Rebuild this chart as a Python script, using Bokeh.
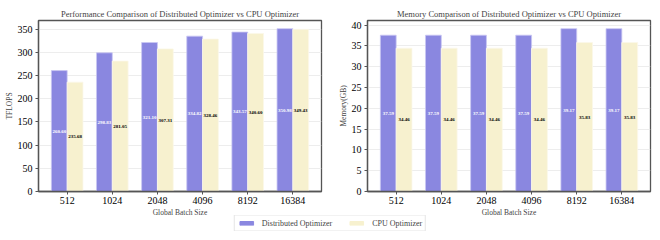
from bokeh.plotting import figure
from bokeh.models import (ColumnDataSource, FactorRange, Range1d, SingleIntervalTicker,
                          Legend, LegendItem)
from bokeh.transform import dodge
from bokeh.layouts import column, row
from bokeh.core.properties import value
from bokeh.embed import file_html
from bokeh.resources import INLINE

batch_sizes = ["512", "1024", "2048", "4096", "8192", "16384"]
tflops_distributed = [260.60, 298.83, 321.10, 334.82, 343.57, 350.98]
tflops_cpu = [235.68, 281.05, 307.31, 328.46, 340.60, 349.43]
memory_distributed = [37.59, 37.59, 37.59, 37.59, 39.17, 39.17]
memory_cpu = [34.46, 34.46, 34.46, 34.46, 35.83, 35.83]
series_names = ["Distributed Optimizer", "CPU Optimizer"]

SERIF = "Liberation Serif"
PURPLE = "#8A87E0"
BEIGE = "#F7F1CF"
SPINE = "#555555"
BAR_W = 0.35


def make_panel(title, ylabel, dist, cpu, interval, bl, br):
    src = ColumnDataSource(dict(
        x=batch_sizes, dist=dist, cpu=cpu,
        dist_mid=[v / 2 for v in dist], cpu_mid=[v / 2 for v in cpu],
        dist_lbl=[f"{v:.2f}" for v in dist], cpu_lbl=[f"{v:.2f}" for v in cpu],
    ))
    p = figure(width=330, height=219,
               x_range=FactorRange(*batch_sizes, range_padding=0.045),
               y_range=Range1d(0, max(dist + cpu) * 1.05),
               output_backend="svg", toolbar_location=None,
               min_border_left=bl, min_border_right=br,
               min_border_top=20, min_border_bottom=0)
    p.vbar(x=dodge("x", -BAR_W / 2, range=p.x_range), top="dist", width=BAR_W,
           source=src, fill_color=PURPLE, line_color="#c9c7f3", line_width=0.8)
    p.vbar(x=dodge("x", BAR_W / 2, range=p.x_range), top="cpu", width=BAR_W,
           source=src, fill_color=BEIGE, line_color="#fbf8e8", line_width=0.8)
    p.text(x=dodge("x", -BAR_W / 2, range=p.x_range), y="dist_mid", text="dist_lbl",
           source=src, text_color="white", text_font=value(SERIF),
           text_font_size="5px", text_font_style="bold",
           text_align="center", text_baseline="middle")
    p.text(x=dodge("x", BAR_W / 2, range=p.x_range), y="cpu_mid", text="cpu_lbl",
           source=src, text_color="black", text_font=value(SERIF),
           text_font_size="5px", text_font_style="bold",
           text_align="center", text_baseline="middle")

    p.title.text = title
    p.title.text_font = SERIF
    p.title.text_font_size = "8.5px"
    p.title.text_font_style = "normal"
    p.title.align = "center"
    p.title.standoff = 3

    p.xgrid.visible = False
    p.ygrid.grid_line_color = "#e8e8e8"
    p.ygrid.grid_line_width = 0.8
    p.yaxis.ticker = SingleIntervalTicker(interval=interval)

    for ax in (p.xaxis[0], p.yaxis[0]):
        ax.axis_line_color = SPINE
        ax.axis_line_width = 1.3
        ax.major_tick_line_color = SPINE
        ax.major_tick_out = 3
        ax.major_tick_in = 0
        ax.minor_tick_line_color = None
        ax.major_label_text_font = SERIF
        ax.major_label_text_font_size = "10px"
        ax.major_label_text_color = "black"
        ax.major_label_standoff = 2
        ax.axis_label_text_font = SERIF
        ax.axis_label_text_font_size = "7.5px"
        ax.axis_label_text_font_style = "normal"
        ax.axis_label_standoff = 1
    p.xaxis.axis_label = "Global Batch Size"
    p.yaxis.axis_label = ylabel
    p.outline_line_color = SPINE
    p.outline_line_width = 1.3
    return p


p1 = make_panel("Performance Comparison of Distributed Optimizer vs CPU Optimizer",
                "TFLOPS", tflops_distributed, tflops_cpu, 50, 38, 9)
p2 = make_panel("Memory Comparison of Distributed Optimizer vs CPU Optimizer",
                "Memory(GB)", memory_distributed, memory_cpu, 5, 37, 10)

# legend strip (anchor glyphs sit outside the visible range; only the legend shows)
pl = figure(width=660, height=16, x_range=Range1d(0, 1), y_range=Range1d(0, 1),
            x_axis_location=None, y_axis_location=None,
            output_backend="svg", toolbar_location=None,
            min_border=0, outline_line_color=None,
            background_fill_alpha=0, border_fill_alpha=0)
pl.margin = (-4, 0, 0, 0)
pl.grid.visible = False
r1 = pl.vbar(x=[-5], top=[-5], bottom=[-6], width=0.1, fill_color=PURPLE, line_color=PURPLE)
r2 = pl.vbar(x=[-5], top=[-5], bottom=[-6], width=0.1, fill_color=BEIGE, line_color=BEIGE)
legend = Legend(items=[LegendItem(label=series_names[0], renderers=[r1]),
                       LegendItem(label=series_names[1], renderers=[r2])],
                orientation="horizontal", location="center",
                label_text_font=SERIF, label_text_font_size="8px",
                glyph_width=17, glyph_height=5, label_height=8, label_width=10,
                label_standoff=7, spacing=16, padding=3, margin=0,
                border_line_color="#cccccc", border_line_width=0.8,
                background_fill_color="white", background_fill_alpha=1)
pl.add_layout(legend, "center")

layout = column(row(p1, p2), pl)
open("out.html", "w").write(file_html(layout, INLINE))
